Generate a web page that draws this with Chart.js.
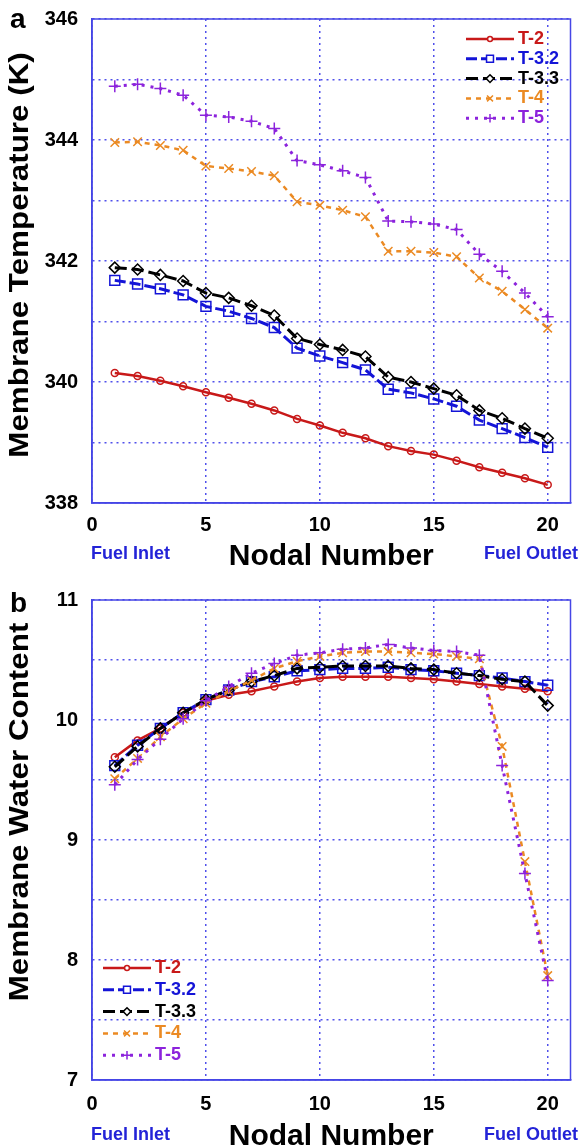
<!DOCTYPE html>
<html>
<head>
<meta charset="utf-8">
<script src="https://cdn.jsdelivr.net/npm/chart.js@4.4.0/dist/chart.umd.min.js"></script>
<style>
html, body { margin: 0; padding: 0; background: #fff; overflow: hidden; }
#wrap { position: relative; width: 579px; height: 1146px; }
.box { position: absolute; left: 0; }
#boxA { top: 0; }
#boxB { top: 575px; }
</style>
</head>
<body>
<div id="wrap">
  <div class="box" id="boxA"><canvas id="chartA" width="579" height="575"></canvas></div>
  <div class="box" id="boxB"><canvas id="chartB" width="579" height="590"></canvas></div>
</div>
<script>
// data
const nodes = [1, 2, 3, 4, 5, 6, 7, 8, 9, 10, 11, 12, 13, 14, 15, 16, 17, 18, 19, 20];
const seriesNames = ['T-2', 'T-3.2', 'T-3.3', 'T-4', 'T-5'];

// (a) membrane temperature, K
const tempT2 = [340.15, 340.10, 340.02, 339.93, 339.83, 339.74, 339.64, 339.53, 339.39, 339.28,
                339.16, 339.07, 338.94, 338.86, 338.80, 338.70, 338.59, 338.50, 338.41, 338.30];
const tempT32 = [341.68, 341.62, 341.54, 341.44, 341.25, 341.17, 341.05, 340.90, 340.56, 340.43,
                 340.32, 340.20, 339.88, 339.82, 339.72, 339.60, 339.37, 339.23, 339.08, 338.92];
const tempT33 = [341.89, 341.86, 341.77, 341.67, 341.47, 341.39, 341.26, 341.10, 340.72, 340.62,
                 340.53, 340.42, 340.08, 340.00, 339.89, 339.78, 339.53, 339.40, 339.23, 339.07];
const tempT4 = [343.96, 343.97, 343.91, 343.83, 343.57, 343.53, 343.48, 343.41, 342.98, 342.92,
                342.84, 342.73, 342.16, 342.16, 342.14, 342.07, 341.72, 341.50, 341.20, 340.89];
const tempT5 = [344.89, 344.92, 344.85, 344.74, 344.41, 344.38, 344.31, 344.19, 343.66, 343.59,
                343.49, 343.38, 342.66, 342.65, 342.61, 342.52, 342.11, 341.83, 341.47, 341.08];

// (b) membrane water content
const waterT2 = [9.69, 9.83, 9.93, 10.06, 10.16, 10.21, 10.24, 10.28, 10.32, 10.35,
                 10.36, 10.36, 10.36, 10.35, 10.34, 10.32, 10.30, 10.28, 10.26, 10.24];
const waterT32 = [9.62, 9.79, 9.93, 10.06, 10.17, 10.25, 10.32, 10.36, 10.41, 10.42,
                  10.43, 10.43, 10.44, 10.42, 10.41, 10.39, 10.37, 10.35, 10.32, 10.29];
const waterT33 = [9.61, 9.78, 9.93, 10.06, 10.17, 10.25, 10.32, 10.37, 10.43, 10.44,
                  10.45, 10.45, 10.45, 10.43, 10.42, 10.39, 10.37, 10.34, 10.32, 10.12];
const waterT4 = [9.51, 9.68, 9.86, 10.01, 10.14, 10.24, 10.33, 10.43, 10.49, 10.53,
                 10.56, 10.57, 10.57, 10.56, 10.55, 10.53, 10.51, 9.78, 8.82, 7.87];
const waterT5 = [9.46, 9.67, 9.84, 10.01, 10.16, 10.28, 10.39, 10.47, 10.54, 10.56,
                 10.59, 10.60, 10.63, 10.60, 10.58, 10.57, 10.54, 9.62, 8.72, 7.83];

const tempTicks = [338, 340, 342, 344, 346];
const waterTicks = [7, 8, 9, 10, 11];
const xTicks = [0, 5, 10, 15, 20];

const FONT = '"Liberation Sans", Arial, Helvetica, sans-serif';
const gridBlue = 'rgb(80, 80, 235)';
const axisBlue = 'rgb(70, 70, 230)';
const labelBlue = 'rgb(35, 35, 215)';

// look of each series: colour, dash, marker
const looks = [
    { color: 'rgb(200, 25, 25)', dash: [], width: 2.5, point: 'circle', r: 3.5 },
    { color: 'rgb(20, 20, 215)', dash: [11, 4], width: 3, point: 'rect', r: 7 },
    { color: 'rgb(0, 0, 0)', dash: [12, 5], width: 3, point: 'rectRot', r: 5.5 },
    { color: 'rgb(235, 138, 35)', dash: [5, 5], width: 2.5, point: 'crossRot', r: 6 },
    { color: 'rgb(140, 35, 220)', dash: [3, 6], width: 3, point: 'cross', r: 6 }
];

function makeSets(arrays) {
    return arrays.map((vals, i) => ({
        label: seriesNames[i],
        data: nodes.map((n, k) => ({ x: n, y: vals[k] })),
        borderColor: looks[i].color,
        borderWidth: looks[i].width,
        borderDash: looks[i].dash,
        pointStyle: looks[i].point,
        pointRadius: looks[i].r,
        pointBorderColor: looks[i].color,
        pointBackgroundColor: 'rgba(255,255,255,0)',
        pointBorderWidth: 1.5,
        tension: 0,
        order: 5 - i
    }));
}

// draw one legend marker
function marker(ctx, style, x, y, r) {
    ctx.beginPath();
    if (style === 'circle') {
        ctx.arc(x, y, r, 0, Math.PI * 2);
    } else if (style === 'rect') {
        const s = r * Math.SQRT1_2;
        ctx.rect(x - s, y - s, 2 * s, 2 * s);
    } else if (style === 'rectRot') {
        ctx.moveTo(x - r, y); ctx.lineTo(x, y - r); ctx.lineTo(x + r, y); ctx.lineTo(x, y + r); ctx.closePath();
    } else if (style === 'crossRot') {
        const s = r * Math.SQRT1_2;
        ctx.moveTo(x - s, y - s); ctx.lineTo(x + s, y + s);
        ctx.moveTo(x - s, y + s); ctx.lineTo(x + s, y - s);
    } else {
        ctx.moveTo(x - r, y); ctx.lineTo(x + r, y);
        ctx.moveTo(x, y - r); ctx.lineTo(x, y + r);
    }
    if (style === 'circle' || style === 'rect' || style === 'rectRot') ctx.fill();
    ctx.stroke();
}

// frame, panel letter, y title, inlet/outlet labels and the legend
const decor = {
    id: 'decor',
    afterDraw(chart, args, o) {
        const { ctx, chartArea: a } = chart;
        ctx.save();
        ctx.strokeStyle = axisBlue;
        ctx.lineWidth = 1.5;
        ctx.strokeRect(a.left, a.top, a.right - a.left, a.bottom - a.top);

        ctx.fillStyle = '#000';
        ctx.font = 'bold 28px ' + FONT;
        ctx.textBaseline = 'middle';
        ctx.textAlign = 'left';
        ctx.fillText(o.letter, o.letterX, o.letterY);

        // y title, a little stretched along its length like the original
        ctx.save();
        ctx.translate(20, o.titleY);
        ctx.rotate(-Math.PI / 2);
        ctx.scale(1.12, 1);
        ctx.textAlign = 'center';
        ctx.font = 'bold 28px ' + FONT;
        ctx.fillText(o.yTitle, 0, 0);
        ctx.restore();

        ctx.fillStyle = labelBlue;
        ctx.font = 'bold 18px ' + FONT;
        ctx.fillText('Fuel Inlet', 91, o.endY);
        ctx.textAlign = 'right';
        ctx.fillText('Fuel Outlet', 578, o.endY);

        // legend
        ctx.font = 'bold 18px ' + FONT;
        ctx.textAlign = 'left';
        chart.data.datasets.forEach((ds, i) => {
            const y = o.legendY + i * o.legendGap;
            const lk = looks[i];
            ctx.strokeStyle = lk.color;
            ctx.lineWidth = lk.width;
            ctx.setLineDash(lk.dash);
            ctx.beginPath();
            ctx.moveTo(o.legendX, y);
            ctx.lineTo(o.legendX + 48, y);
            ctx.stroke();
            ctx.setLineDash([]);
            ctx.lineWidth = 1.5;
            ctx.fillStyle = '#fff';
            marker(ctx, lk.point, o.legendX + 24, y, lk.r * 0.7);
            ctx.fillStyle = lk.color;
            ctx.fillText(ds.label, o.legendX + 52, y);
        });
        ctx.restore();
    }
};

function makeOptions(yMin, yMax, yStep, yLabels, dec, xHeight) {
    return {
        responsive: false,
        animation: false,
        layout: { padding: { top: dec.padTop, right: 5, left: 0, bottom: 0 } },
        plugins: { legend: { display: false }, tooltip: { enabled: false }, decor: dec },
        scales: {
            x: {
                type: 'linear',
                min: 0,
                max: 21,
                afterBuildTicks: s => { s.ticks = xTicks.map(v => ({ value: v })); },
                afterFit: s => { s.height = xHeight; s.paddingLeft = 0; s.paddingRight = 0; },
                ticks: {
                    color: '#000',
                    font: { family: FONT, size: 20, weight: 'bold' },
                    padding: dec.xTickPad,
                    maxRotation: 0
                },
                grid: { color: gridBlue, lineWidth: 1.5, drawTicks: false },
                border: { color: axisBlue, width: 1.5, dash: [2, 4] },
                title: {
                    display: true,
                    text: 'Nodal Number',
                    color: '#000',
                    font: { family: FONT, size: 30, weight: 'bold', lineHeight: 1 },
                    padding: { top: 0, bottom: dec.xTitlePad }
                }
            },
            y: {
                min: yMin,
                max: yMax,
                afterFit: s => { s.width = 92; s.paddingTop = 0; s.paddingBottom = 0; },
                ticks: {
                    stepSize: yStep,
                    color: '#000',
                    font: { family: FONT, size: 20, weight: 'bold' },
                    padding: 14,
                    callback: v => (yLabels.includes(v) ? String(v) : '')
                },
                grid: { color: gridBlue, lineWidth: 1.5, drawTicks: false },
                border: { color: axisBlue, width: 1.5, dash: [2, 4] },
                title: { display: false }
            }
        }
    };
}

new Chart(document.getElementById('chartA'), {
    type: 'line',
    data: { datasets: makeSets([tempT2, tempT32, tempT33, tempT4, tempT5]) },
    options: makeOptions(338, 346, 1, tempTicks,
        { padTop: 19, letter: 'a', letterX: 10, letterY: 20, endY: 554, xTickPad: 10, xTitlePad: 3,
          yTitle: 'Membrane Temperature (K)', titleY: 255,
          legendX: 466, legendY: 39, legendGap: 19.8 }, 72),
    plugins: [decor]
});

new Chart(document.getElementById('chartB'), {
    type: 'line',
    data: { datasets: makeSets([waterT2, waterT32, waterT33, waterT4, waterT5]) },
    options: makeOptions(7, 11, 0.5, waterTicks,
        { padTop: 25, letter: 'b', letterX: 10, letterY: 29, endY: 560, xTickPad: 12, xTitlePad: 13,
          yTitle: 'Membrane Water Content', titleY: 237,
          legendX: 103, legendY: 393, legendGap: 21.8 }, 85),
    plugins: [decor]
});
</script>
</body>
</html>
